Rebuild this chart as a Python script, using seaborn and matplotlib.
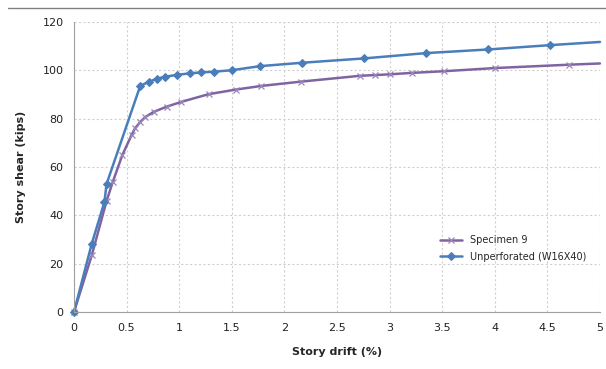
import matplotlib
matplotlib.use("Agg")
import matplotlib.pyplot as plt
from matplotlib.lines import Line2D
from matplotlib.ticker import MultipleLocator, FuncFormatter
import seaborn as sns
import pandas as pd

# Specimen 9 (perforated beam)
spec_drift = [0.0, 0.17, 0.31, 0.37, 0.46, 0.55, 0.58, 0.63, 0.68, 0.76, 0.88,
              1.02, 1.28, 1.54, 1.78, 2.16, 2.72, 2.86, 3.0, 3.21, 3.52, 4.0,
              4.71, 5.0]
spec_shear = [0.0, 23.6, 46.0, 54.0, 65.0, 73.5, 76.0, 78.7, 80.8, 82.9, 85.0,
              87.0, 90.2, 92.1, 93.6, 95.4, 97.8, 98.1, 98.4, 99.0, 99.7, 101.0,
              102.4, 102.9]

# Unperforated W16X40
unp_drift = [0.0, 0.17, 0.29, 0.31, 0.63, 0.71, 0.79, 0.865, 0.98, 1.10, 1.21,
             1.33, 1.50, 1.77, 2.17, 2.76, 3.35, 3.94, 4.53, 5.0]
unp_shear = [0.0, 28.4, 45.6, 53.0, 93.6, 95.3, 96.6, 97.4, 98.2, 98.8, 99.2,
             99.5, 100.1, 101.8, 103.2, 105.0, 107.2, 108.7, 110.5, 111.8]

labels = ["Specimen 9", "Unperforated (W16X40)"]
colors = ["#8064A2", "#4A7EBB"]

sns.set_style("white")
plt.rcParams["font.family"] = ["DejaVu Sans"]

fig = plt.figure(figsize=(6.06, 3.69), dpi=100)
ax = fig.add_axes([0.122, 0.154, 0.868, 0.786])

spec = pd.DataFrame({"drift": spec_drift, "shear": spec_shear})
unp = pd.DataFrame({"drift": unp_drift, "shear": unp_shear})

sns.lineplot(data=spec, x="drift", y="shear", sort=False, ax=ax,
             color=colors[0], lw=1.8, marker="x", markersize=5,
             markeredgewidth=0.9, markeredgecolor="#9A86B8",
             markevery=list(range(len(spec_drift) - 1)),
             label=labels[0], clip_on=False)
sns.lineplot(data=unp, x="drift", y="shear", sort=False, ax=ax,
             color=colors[1], lw=1.8, marker="D", markersize=4,
             markeredgecolor=colors[1], markerfacecolor=colors[1],
             markevery=list(range(len(unp_drift) - 1)),
             label=labels[1], clip_on=False)

ax.set_xlim(0, 5)
ax.set_ylim(0, 120)
ax.xaxis.set_major_locator(MultipleLocator(0.5))
ax.xaxis.set_minor_locator(MultipleLocator(0.1))
ax.yaxis.set_major_locator(MultipleLocator(20))
ax.yaxis.set_minor_locator(MultipleLocator(4))
ax.xaxis.set_major_formatter(FuncFormatter(lambda v, p: f"{v:g}"))

ax.grid(True, which="major", color="#D0D0D0", linestyle=(0, (2, 2)), lw=0.8)
ax.set_axisbelow(True)
for side in ["top", "right"]:
    ax.spines[side].set_visible(False)
for side in ["left", "bottom"]:
    ax.spines[side].set_color("#A0A0A0")
    ax.spines[side].set_linewidth(0.8)

ax.tick_params(axis="both", which="major", labelsize=8, colors="#A0A0A0",
               labelcolor="#222222", length=4, width=0.8)
ax.tick_params(axis="x", which="major", direction="inout", length=6, pad=5)
ax.tick_params(axis="x", which="minor", direction="in", length=3,
               colors="#A0A0A0", width=0.8)
ax.tick_params(axis="y", which="minor", direction="out", length=3,
               colors="#A0A0A0", width=0.8)

ax.set_xlabel("Story drift (%)", fontsize=8, fontweight="bold", labelpad=10)
ax.set_ylabel("Story shear (kips)", fontsize=8, fontweight="bold", labelpad=12)

ax.legend(loc="center left", bbox_to_anchor=(0.68, 0.22), frameon=False,
          fontsize=7, handlelength=2.2, labelspacing=0.7)

fig.add_artist(Line2D([0.013, 1.0], [0.978, 0.978], color="#808080", lw=1,
                      transform=fig.transFigure))

fig.savefig("out.png", dpi=100)
